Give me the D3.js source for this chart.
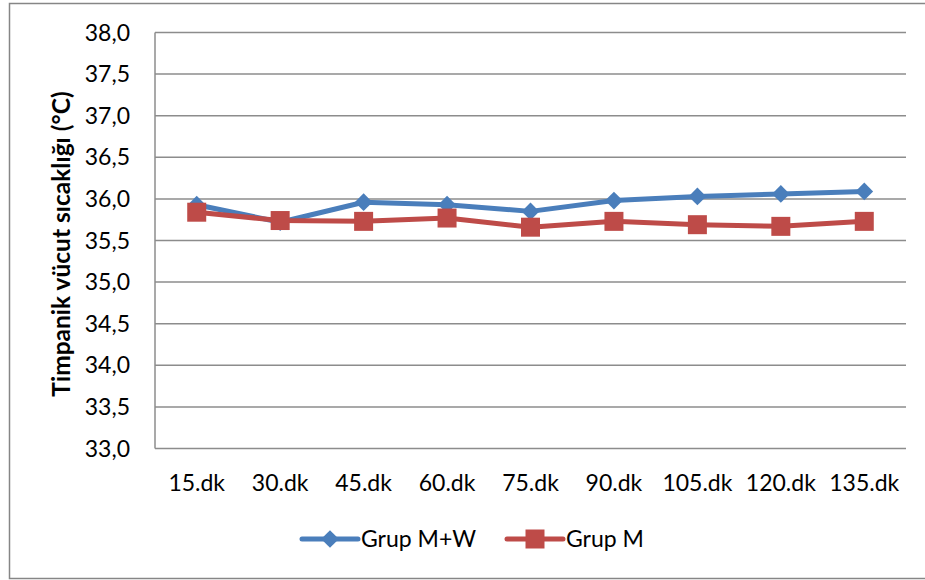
<!DOCTYPE html>
<html>
<head>
<meta charset="utf-8">
<script src="https://cdn.jsdelivr.net/npm/d3@7"></script>
<style>
  body { margin: 0; background: #fff; }
  svg { display: block; font-family: Lato, "Open Sans", sans-serif; }
</style>
</head>
<body>
<svg id="chart"></svg>
<script>
// Data
const categories = ["15.dk", "30.dk", "45.dk", "60.dk", "75.dk", "90.dk", "105.dk", "120.dk", "135.dk"];
const grupMW = [35.93, 35.72, 35.96, 35.93, 35.85, 35.98, 36.03, 36.06, 36.09];
const grupM = [35.84, 35.74, 35.73, 35.77, 35.66, 35.73, 35.69, 35.67, 35.73];
const yTicks = [33, 33.5, 34, 34.5, 35, 35.5, 36, 36.5, 37, 37.5, 38];
const seriesNames = ["Grup M+W", "Grup M"];

const width = 925;
const height = 580;
const margin = { top: 32.5, right: 19, bottom: 131.5, left: 155 };
const fontSize = 23;

const svg = d3.select("#chart")
    .attr("width", width)
    .attr("height", height);

// outer chart border
svg.append("rect")
    .attr("x", 9.5).attr("y", 3.5)
    .attr("width", 930).attr("height", 575)
    .attr("fill", "none")
    .attr("stroke", "#868686")
    .attr("stroke-width", 1.5);

const x = d3.scaleBand()
    .domain(categories)
    .range([margin.left, width - margin.right]);

const y = d3.scaleLinear()
    .domain([33, 38])
    .range([height - margin.bottom, margin.top]);

// gridlines
svg.append("g")
    .selectAll("line")
    .data(yTicks)
    .join("line")
    .attr("x1", margin.left)
    .attr("x2", width - margin.right)
    .attr("y1", d => y(d))
    .attr("y2", d => y(d))
    .attr("stroke", "#8c8c8c")
    .attr("stroke-width", 1.5);

// left axis line
svg.append("line")
    .attr("x1", margin.left).attr("x2", margin.left)
    .attr("y1", y(38)).attr("y2", y(33))
    .attr("stroke", "#8c8c8c")
    .attr("stroke-width", 1.5);

// y tick labels
svg.append("g")
    .selectAll("text")
    .data(yTicks)
    .join("text")
    .attr("x", 130)
    .attr("y", d => y(d))
    .attr("dy", "0.35em")
    .attr("text-anchor", "end")
    .attr("font-size", fontSize)
    .attr("fill", "#000")
    .text(d => d.toFixed(1).replace(".", ","));

// x tick labels
svg.append("g")
    .selectAll("text")
    .data(categories)
    .join("text")
    .attr("x", d => x(d) + x.bandwidth() / 2)
    .attr("y", 491)
    .attr("text-anchor", "middle")
    .attr("font-size", fontSize)
    .attr("fill", "#000")
    .text(d => d);

// y axis title
svg.append("text")
    .attr("transform", "translate(70,244) rotate(-90)")
    .attr("text-anchor", "middle")
    .attr("font-size", 24.5)
    .attr("font-weight", "bold")
    .text("Timpanik vücut sıcaklığı (°C)");

const line = d3.line()
    .x((d, i) => x(categories[i]) + x.bandwidth() / 2)
    .y(d => y(d));

const blue = "#4a7ebb";
const red = "#be4b48";
const diamond = d3.symbol().type(d3.symbolDiamond2).size(200);
const square = d3.symbol().type(d3.symbolSquare).size(361);

function drawSeries(values, color, symbol) {
    svg.append("path")
        .datum(values)
        .attr("d", line)
        .attr("fill", "none")
        .attr("stroke", color)
        .attr("stroke-width", 5)
        .attr("stroke-linejoin", "round");
    svg.append("g")
        .selectAll("path")
        .data(values)
        .join("path")
        .attr("transform", (d, i) => `translate(${x(categories[i]) + x.bandwidth() / 2},${y(d)})`)
        .attr("d", symbol)
        .attr("fill", color);
}

drawSeries(grupMW, blue, diamond);
drawSeries(grupM, red, square);

// legend
const legendItems = [
    { name: seriesNames[0], color: blue, symbol: diamond, x0: 302 },
    { name: seriesNames[1], color: red, symbol: square, x0: 507 }
];
const legend = svg.append("g");
legendItems.forEach(item => {
    legend.append("line")
        .attr("x1", item.x0).attr("x2", item.x0 + 56)
        .attr("y1", 539).attr("y2", 539)
        .attr("stroke", item.color)
        .attr("stroke-width", 5)
        .attr("stroke-linecap", "round");
    legend.append("path")
        .attr("transform", `translate(${item.x0 + 28},539)`)
        .attr("d", item.symbol)
        .attr("fill", item.color);
    legend.append("text")
        .attr("x", item.x0 + 59)
        .attr("y", 539)
        .attr("dy", "0.35em")
        .attr("font-size", fontSize)
        .text(item.name);
});
</script>
</body>
</html>
